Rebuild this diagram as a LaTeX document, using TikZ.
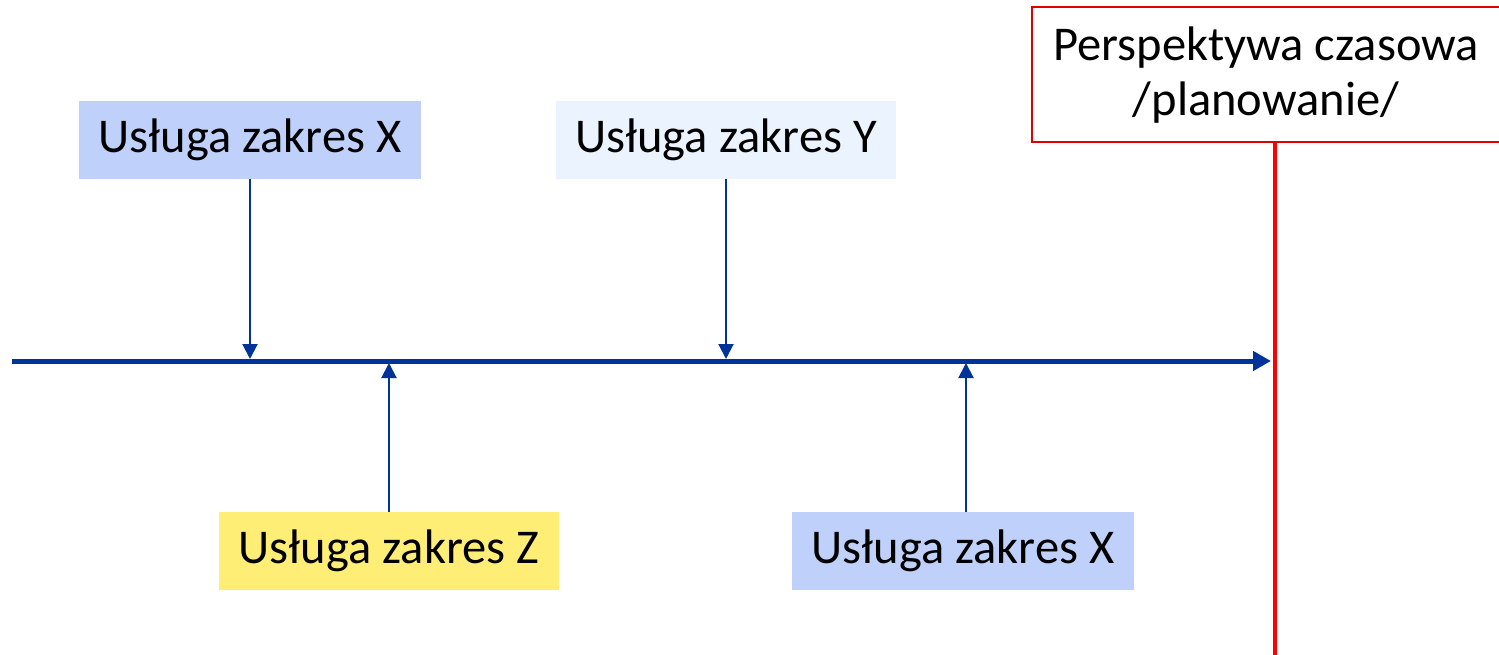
\documentclass[tikz,border=0pt]{standalone}
\usepackage{fontspec}
\setmainfont{Carlito}
\usetikzlibrary{arrows.meta}
\definecolor{axisblue}{HTML}{003399}
\definecolor{boxblue}{HTML}{BFD1FB}
\definecolor{boxpale}{HTML}{EBF3FE}
\definecolor{boxyellow}{HTML}{FFEE75}
\definecolor{redline}{HTML}{FF0000}
\definecolor{redbox}{HTML}{E00000}
\tikzset{
  lbl/.style={inner sep=0pt, minimum height=78pt, font=\fontsize{48.5}{56}\selectfont, text=black},
  conn/.style={draw=axisblue, line width=2pt, -{Triangle[length=15pt,width=15pt]}},
  axis/.style={draw=axisblue, line width=5pt, -{Triangle[length=18pt,width=19pt]}}
}
\begin{document}
\begin{tikzpicture}[x=1pt,y=-1pt]
\useasboundingbox (0,0) rectangle (1499,655);
\clip (0,0) rectangle (1499,655);
% boxes
\node[lbl, fill=boxblue, minimum width=342pt] (x1) at (250,140) {Usługa zakres X};
\node[lbl, fill=boxpale, minimum width=340pt] (y1) at (726,140) {Usługa zakres Y};
\node[lbl, fill=boxyellow, minimum width=340pt] (z1) at (389,551) {Usługa zakres Z};
\node[lbl, fill=boxblue, minimum width=342pt] (x2) at (963,551) {Usługa zakres X};
% axis
\coordinate (a0) at (12,361);
\coordinate (a1) at (1271,361);
\draw[axis] (a0) -- (a1);
% red line and box
\coordinate (rb) at (1275,655);
\node[draw=redbox, line width=2pt, fill=white, minimum width=468pt, minimum height=135pt, inner sep=0pt, align=center, font=\fontsize{48.5}{55}\selectfont] (p) at (1266,75) {Perspektywa czasowa\\/planowanie/};
\draw[redline, line width=3.5pt] (p.south -| rb) -- (rb);
% connectors
\coordinate (t1) at (250,359);
\coordinate (t2) at (726,359);
\coordinate (t3) at (389,363);
\coordinate (t4) at (966,363);
\draw[conn] (x1.south) -- (t1);
\draw[conn] (y1.south) -- (t2);
\draw[conn] (z1.north -| t3) -- (t3);
\draw[conn] (x2.north -| t4) -- (t4);
\end{tikzpicture}
\end{document}
